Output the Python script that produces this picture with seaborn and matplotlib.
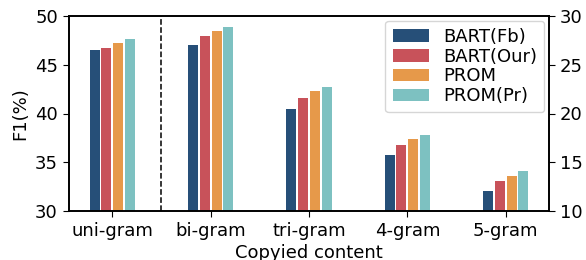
import matplotlib
matplotlib.use("Agg")
import matplotlib.pyplot as plt
import seaborn as sns
import pandas as pd

categories = ["uni-gram", "bi-gram", "tri-gram", "4-gram", "5-gram"]
series = ["BART(Fb)", "BART(Our)", "PROM", "PROM(Pr)"]
bart_fb = [46.5, 47.0, 40.5, 35.7, 32.1]
bart_our = [46.7, 47.9, 41.6, 36.8, 33.1]
prom = [47.2, 48.5, 42.3, 37.4, 33.6]
prom_pr = [47.6, 48.9, 42.7, 37.8, 34.1]
colors = ["#264f78", "#c8525a", "#e6994a", "#7dc1c1"]

rows = []
for name, vals in zip(series, [bart_fb, bart_our, prom, prom_pr]):
    for c, v in zip(categories, vals):
        rows.append({"cat": c, "model": name, "f1": v})
df = pd.DataFrame(rows)

plt.rcParams["font.family"] = ["DejaVu Sans"]
plt.rcParams["axes.linewidth"] = 1.2

fig = plt.figure(figsize=(5.86, 2.60), dpi=100)
ax = fig.add_axes([69/586, 1-211/260, (549-69)/586, (211-16)/260])
sns.barplot(data=df, x="cat", y="f1", hue="model", palette=colors,
            width=0.48, gap=0.15, ax=ax, saturation=1, legend=True)
ax.set_ylim(30, 50)
ax.set_yticks([30, 35, 40, 45, 50])
ax.set_xlim(-0.44, 4.44)
ax.axvline(0.5, color="black", linestyle="--", linewidth=1.1)
ax.set_ylabel("F1(%)", fontsize=13)
ax.set_xlabel("Copyied content", fontsize=13, labelpad=3)
ax.tick_params(labelsize=13, length=4.5)

ax2 = ax.twinx()
ax2.set_ylim(10, 30)
ax2.set_yticks([10, 15, 20, 25, 30])
ax2.tick_params(labelsize=13, length=4.5)

leg = ax.legend(loc="upper right", fontsize=13, labelspacing=0.1,
                borderaxespad=0.25, handlelength=2.0)
leg.set_title(None)

fig.savefig("out.png", dpi=100)
